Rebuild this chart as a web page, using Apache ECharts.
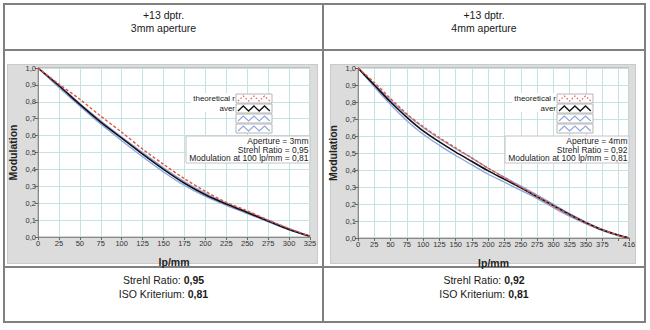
<!DOCTYPE html>
<html>
<head>
<meta charset="utf-8">
<script src="https://cdn.jsdelivr.net/npm/echarts@6/dist/echarts.min.js"></script>
<style>
  html, body { margin: 0; padding: 0; background: #fff; }
  #page { position: relative; width: 650px; height: 330px; overflow: hidden;
          font-family: "Liberation Sans", Arial, sans-serif; color: #1a1a1a; }
  .ln { position: absolute; background: #808080; }
  .panel { position: absolute; background: #dcdcdc; border: 1px solid #cacaca; box-sizing: border-box; }
  .cap { position: absolute; text-align: center; font-size: 10.5px; line-height: 12.5px; }
  .foot { position: absolute; text-align: center; font-size: 10.5px; line-height: 13.5px; }
  #chart { position: absolute; left: 0; top: 0; width: 650px; height: 330px; }
</style>
</head>
<body>
<div id="page">
  <!-- table frame -->
  <div class="ln" style="left:3px;top:3px;width:643px;height:2px"></div>
  <div class="ln" style="left:3px;top:321px;width:643px;height:2px"></div>
  <div class="ln" style="left:3px;top:3px;width:2px;height:320px"></div>
  <div class="ln" style="left:644px;top:3px;width:2px;height:320px"></div>
  <div class="ln" style="left:322px;top:3px;width:2px;height:320px"></div>
  <div class="ln" style="left:3px;top:49px;width:643px;height:2px"></div>
  <div class="ln" style="left:3px;top:266px;width:643px;height:2px"></div>

  <!-- header cells -->
  <div class="cap" style="left:5px;width:317px;top:9px">+13 dptr.<br>3mm aperture</div>
  <div class="cap" style="left:324px;width:320px;top:9px">+13 dptr.<br>4mm aperture</div>

  <!-- graph panels -->
  <div class="panel" style="left:7px;top:64px;width:311px;height:200px"></div>
  <div class="panel" style="left:330px;top:64px;width:306px;height:200px"></div>

  <!-- footer cells -->
  <div class="foot" style="left:5px;width:317px;top:274px">Strehl Ratio: <b>0,95</b><br>ISO Kriterium: <b>0,81</b></div>
  <div class="foot" style="left:324px;width:320px;top:274px">Strehl Ratio: <b>0,92</b><br>ISO Kriterium: <b>0,81</b></div>

  <div id="chart"></div>
</div>

<script>
// MTF curves, 3 mm aperture (spatial frequency in lp/mm)
const lpA    = [0, 25, 50, 75, 100, 125, 150, 175, 200, 225, 250, 275, 300, 325];
const theoA  = [1.0, 0.905, 0.815, 0.715, 0.62, 0.52, 0.43, 0.345, 0.27, 0.205, 0.155, 0.10, 0.05, 0.005];
const avgA   = [1.0, 0.895, 0.785, 0.68, 0.585, 0.49, 0.40, 0.318, 0.25, 0.195, 0.145, 0.095, 0.045, 0.005];
const hiA    = [1.0, 0.90, 0.79, 0.688, 0.592, 0.50, 0.41, 0.328, 0.258, 0.20, 0.15, 0.10, 0.05, 0.006];
const loA    = [1.0, 0.885, 0.775, 0.668, 0.57, 0.475, 0.385, 0.305, 0.24, 0.187, 0.138, 0.09, 0.042, 0.004];

// MTF curves, 4 mm aperture
const lpB    = [0, 25, 50, 75, 100, 125, 150, 175, 200, 225, 250, 275, 300, 325, 350, 375, 400, 416];
const theoB  = [1.0, 0.915, 0.82, 0.73, 0.655, 0.59, 0.53, 0.47, 0.41, 0.355, 0.30, 0.245, 0.19, 0.135, 0.09, 0.05, 0.015, 0.0];
const avgB   = [1.0, 0.90, 0.80, 0.71, 0.63, 0.565, 0.505, 0.45, 0.395, 0.345, 0.295, 0.243, 0.19, 0.137, 0.09, 0.048, 0.016, 0.0];
const hiB    = [1.0, 0.905, 0.81, 0.725, 0.65, 0.585, 0.525, 0.47, 0.41, 0.357, 0.305, 0.253, 0.198, 0.143, 0.094, 0.051, 0.018, 0.0];
const loB    = [1.0, 0.89, 0.785, 0.69, 0.61, 0.545, 0.485, 0.43, 0.375, 0.328, 0.28, 0.232, 0.178, 0.127, 0.083, 0.043, 0.013, 0.0];

// axis ranges and panel annotations
const xMaxA = 325, xMaxB = 416;
const apertureA = '3mm', strehlA = '0,95', modA = '0,81';
const apertureB = '4mm', strehlB = '0,92', modB = '0,81';
const legendNames = ['theoretical r', 'aver', '', ''];

const FONT = 'Liberation Sans';
const GRID_LINE = '#c6e3e3';
const RED = '#e4553c', BLACK = '#111', BLUE = '#8ea3df';

const pairs = (xs, ys) => xs.map((x, i) => [x, ys[i]]);
const comma = v => v.toFixed(1).replace('.', ',');

function xAxis(gi, max, hideValues) {
  return {
    type: 'value', gridIndex: gi, min: 0, max: max, interval: 25,
    name: 'lp/mm', nameLocation: 'middle', nameGap: 19,
    nameTextStyle: { fontFamily: FONT, fontWeight: 'bold', fontSize: 10.5, color: '#222' },
    axisLine: { show: true, lineStyle: { color: '#8a8a8a', width: 1 } },
    axisTick: { show: true, length: 3, lineStyle: { color: '#666' } },
    axisLabel: { fontFamily: FONT, fontSize: 7.5, color: '#333', margin: 2,
                 showMinLabel: true, showMaxLabel: true,
                 formatter: v => hideValues.indexOf(v) >= 0 ? '' : String(v) },
    splitLine: { show: true, lineStyle: { color: GRID_LINE, width: 1 } }
  };
}
function yAxis(gi) {
  return {
    type: 'value', gridIndex: gi, min: 0, max: 1, interval: 0.1,
    name: 'Modulation', nameLocation: 'middle', nameGap: 20, nameRotate: 90,
    nameTextStyle: { fontFamily: FONT, fontWeight: 'bold', fontSize: 10.5, color: '#222' },
    axisLine: { show: true, lineStyle: { color: '#8a8a8a', width: 1 } },
    axisTick: { show: true, length: 3, lineStyle: { color: '#666' } },
    axisLabel: { fontFamily: FONT, fontSize: 7.5, color: '#333', margin: 2, formatter: comma },
    splitLine: { show: true, lineStyle: { color: GRID_LINE, width: 1 } }
  };
}
function curves(gi, xs, theo, avg, hi, lo) {
  const base = { type: 'line', xAxisIndex: gi, yAxisIndex: gi, showSymbol: false,
                 smooth: 0.3, silent: true, animation: false };
  return [
    Object.assign({}, base, { data: pairs(xs, lo),   lineStyle: { color: BLUE, width: 1.3 } }),
    Object.assign({}, base, { data: pairs(xs, hi),   lineStyle: { color: BLUE, width: 1.3 } }),
    Object.assign({}, base, { data: pairs(xs, avg),  lineStyle: { color: BLACK, width: 1.6 } }),
    Object.assign({}, base, { data: pairs(xs, theo), lineStyle: { color: RED, width: 1.4, type: [3, 2] } })
  ];
}

// in-plot legend (names + zigzag swatches) and the info box
function annotations(swatchLeft, infoRight, aperture, strehl, mod) {
  const els = [];
  const rowTop = [94, 104, 114, 124];
  const swW = 36, swH = 9;
  els.push({ type: 'rect', z: 50, shape: { x: swatchLeft - 45, y: 93, width: 45, height: 19 },
             style: { fill: '#fff' } });
  legendNames.forEach((nm, i) => {
    const t = rowTop[i];
    els.push({ type: 'rect', z: 51, shape: { x: swatchLeft, y: t, width: swW, height: swH },
               style: { fill: '#fff', stroke: '#b5b5b5', lineWidth: 1 } });
    const pts = [];
    for (let k = 0; k <= 6; k++) pts.push([swatchLeft + 2 + k * 5.3, t + (k % 2 ? 2 : 7)]);
    const st = i === 0 ? { stroke: RED, lineWidth: 1.2, lineDash: [1.5, 2], fill: null }
             : i === 1 ? { stroke: BLACK, lineWidth: 1.3, fill: null }
             : { stroke: BLUE, lineWidth: 1.1, fill: null };
    els.push({ type: 'polyline', z: 52, shape: { points: pts }, style: st });
    if (nm) {
      els.push({ type: 'text', z: 52,
                 style: { text: nm, x: swatchLeft - 1, y: t + 4.5, align: 'right', verticalAlign: 'middle',
                          font: '8px "' + FONT + '"', fill: '#222' } });
    }
  });
  els.push({ type: 'rect', z: 50, shape: { x: infoRight - 124, y: 136, width: 124, height: 27 },
             style: { fill: '#fff', stroke: '#c4c4c4', lineWidth: 1 } });
  const lines = ['Aperture = ' + aperture, 'Strehl Ratio = ' + strehl, 'Modulation at 100 lp/mm = ' + mod];
  lines.forEach((s, i) => {
    els.push({ type: 'text', z: 52,
               style: { text: s, x: infoRight - 1.5, y: 141 + i * 8.5, align: 'right', verticalAlign: 'middle',
                        font: '8.5px "' + FONT + '"', fill: '#222' } });
  });
  return els;
}

const chart = echarts.init(document.getElementById('chart'), null, { renderer: 'svg' });
chart.setOption({
  animation: false,
  backgroundColor: 'transparent',
  grid: [
    { left: 38, top: 68, width: 272, height: 169, show: true, backgroundColor: '#fff',
      borderColor: '#a5a5a5', borderWidth: 1 },
    { left: 358, top: 68, width: 271, height: 170, show: true, backgroundColor: '#fff',
      borderColor: '#a5a5a5', borderWidth: 1 }
  ],
  xAxis: [ xAxis(0, xMaxA, []), xAxis(1, xMaxB, [400]) ],
  yAxis: [ yAxis(0), yAxis(1) ],
  series: [].concat(
    curves(0, lpA, theoA, avgA, hiA, loA),
    curves(1, lpB, theoB, avgB, hiB, loB)
  ),
  graphic: { elements: [].concat(
    annotations(236, 310, apertureA, strehlA, modA),
    annotations(557, 629, apertureB, strehlB, modB)
  ) }
});
</script>
</body>
</html>
